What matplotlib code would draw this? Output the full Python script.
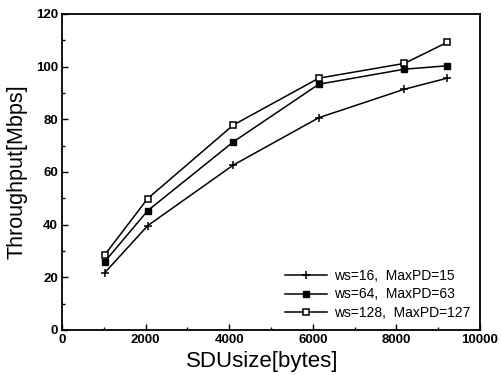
import matplotlib
matplotlib.use('Agg')
import matplotlib.pyplot as plt
from matplotlib.ticker import MultipleLocator

plt.rcParams['font.family'] = ['Liberation Sans', 'DejaVu Sans']

# SDU size in bytes
sdu = [1024, 2048, 4096, 6144, 8192, 9216]
# throughput in Mbps
ws16 = [21.8, 39.6, 62.6, 80.6, 91.4, 95.6]
ws64 = [26.0, 45.3, 71.4, 93.3, 99.0, 100.3]
ws128 = [28.6, 49.9, 77.8, 95.6, 101.2, 109.2]
labels = ['ws=16,  MaxPD=15', 'ws=64,  MaxPD=63', 'ws=128,  MaxPD=127']

fig = plt.figure(figsize=(5.01, 3.75), dpi=100)
ax = fig.add_axes([0.124, 0.12, 0.834, 0.843])

ax.plot(sdu, ws16, color='black', lw=1.1, marker='+', ms=6, mew=1.1, label=labels[0])
ax.plot(sdu, ws64, color='black', lw=1.1, marker='s', ms=5, mfc='black', label=labels[1])
ax.plot(sdu, ws128, color='black', lw=1.1, marker='s', ms=5, mfc='white', mew=1.1, label=labels[2])

ax.set_xlim(0, 10000)
ax.set_ylim(0, 120)
ax.xaxis.set_major_locator(MultipleLocator(2000))
ax.xaxis.set_minor_locator(MultipleLocator(1000))
ax.yaxis.set_major_locator(MultipleLocator(20))
ax.yaxis.set_minor_locator(MultipleLocator(10))
ax.tick_params(which='both', direction='in', labelsize=9.5, width=1)
ax.tick_params(which='major', length=4, pad=3)
ax.tick_params(which='minor', length=2)
for lab in ax.get_xticklabels() + ax.get_yticklabels():
    lab.set_fontweight('bold')
for sp in ax.spines.values():
    sp.set_linewidth(1.3)

ax.set_xlabel('SDUsize[bytes]', fontsize=16, labelpad=3.5)
ax.xaxis.label.set_x(0.478)
ax.set_ylabel('Throughput[Mbps]', fontsize=15.5, labelpad=6)

ax.legend(loc='lower right', frameon=False, fontsize=10, handlelength=3,
          handletextpad=0.5, labelspacing=0.35, borderaxespad=0.3)

fig.savefig('out.png', dpi=100)
